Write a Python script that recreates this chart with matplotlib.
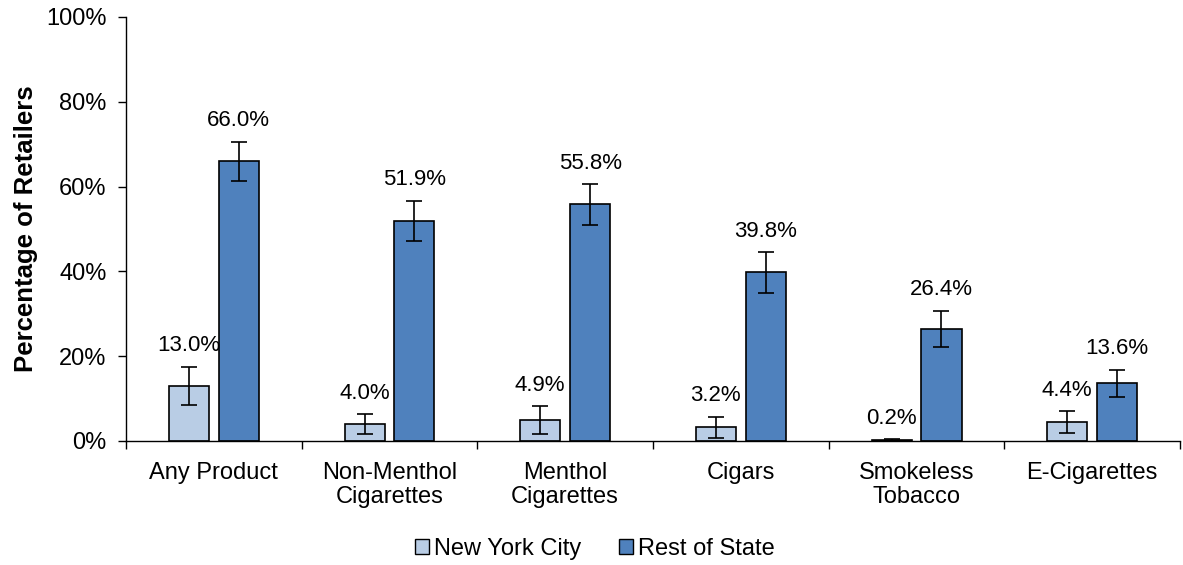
import matplotlib
matplotlib.use("Agg")
import matplotlib.pyplot as plt
import numpy as np
from matplotlib.patches import Patch

plt.rcParams['font.family'] = ['Liberation Sans', 'DejaVu Sans']

categories = ["Any Product", "Non-Menthol\nCigarettes", "Menthol\nCigarettes",
              "Cigars", "Smokeless\nTobacco", "E-Cigarettes"]
nyc = [13.0, 4.0, 4.9, 3.2, 0.2, 4.4]
ros = [66.0, 51.9, 55.8, 39.8, 26.4, 13.6]
nyc_err = [4.5, 2.4, 3.3, 2.5, 0.3, 2.6]
ros_err = [4.6, 4.8, 4.8, 4.8, 4.3, 3.2]
series_names = ["New York City", "Rest of State"]
yticks = [0, 20, 40, 60, 80, 100]

c_nyc = "#B9CDE5"
c_ros = "#4F81BD"
FS = 17

fig = plt.figure(figsize=(11.83, 5.65), dpi=100)
ax = fig.add_axes([0.1065, 0.2195, 0.891, 0.7505])

x = np.arange(len(categories))
w = 0.228
off = 0.142
ekw = dict(ecolor="black", elinewidth=1.2, capsize=6, capthick=1.2)
ax.bar(x - off, nyc, w, color=c_nyc, edgecolor="black", linewidth=1.2,
       yerr=nyc_err, error_kw=ekw, zorder=2)
ax.bar(x + off, ros, w, color=c_ros, edgecolor="black", linewidth=1.2,
       yerr=ros_err, error_kw=ekw, zorder=2)

for xs, vals, errs in ((x - off, nyc, nyc_err), (x + off, ros, ros_err)):
    for xi, v, e in zip(xs, vals, errs):
        ax.annotate(f"{v:.1f}%", (xi, v + e), xytext=(0, 15), textcoords="offset points",
                    ha="center", va="center", fontsize=16)

ax.set_xlim(-0.5, len(categories) - 0.5)
ax.set_ylim(0, 100)
ax.set_yticks(yticks)
ax.set_yticklabels([f"{t}%" for t in yticks], fontsize=FS)
ax.tick_params(axis="y", direction="out", length=6, width=1, pad=8)

ax.set_xticks(np.arange(-0.5, len(categories), 1.0))
ax.set_xticklabels([])
ax.tick_params(axis="x", which="major", direction="out", length=6, width=1)
ax.set_xticks(x, minor=True)
ax.set_xticklabels(categories, minor=True, fontsize=FS, linespacing=1.15)
ax.tick_params(axis="x", which="minor", length=0, pad=15)

ax.spines["top"].set_visible(False)
ax.spines["right"].set_visible(False)
ax.spines["left"].set_linewidth(1)
ax.spines["bottom"].set_linewidth(1)

ax.set_ylabel("Percentage of Retailers", fontsize=18.5, fontweight="bold", labelpad=6)

handles = [Patch(facecolor=c_nyc, edgecolor="black"), Patch(facecolor=c_ros, edgecolor="black")]
fig.legend(handles, series_names, loc="center", bbox_to_anchor=(0.503, 0.028), ncol=2,
           frameon=False, fontsize=FS, handlelength=0.6, handleheight=0.6,
           handletextpad=0.2, columnspacing=1.6, borderpad=0)

fig.savefig("out.png", dpi=100)
